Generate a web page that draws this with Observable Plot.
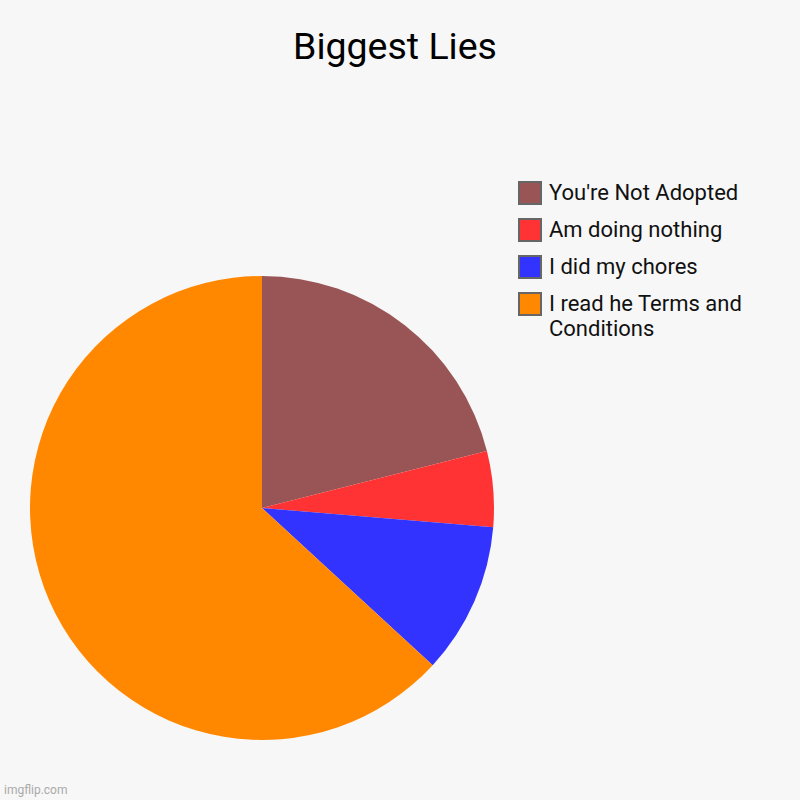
<!DOCTYPE html>
<html>
<head>
<meta charset="utf-8">
<script src="https://cdn.jsdelivr.net/npm/d3@7"></script>
<script src="https://cdn.jsdelivr.net/npm/@observablehq/plot@0.6"></script>
<style>
  html, body { margin: 0; padding: 0; background: #f7f7f7; }
  #wrap { position: relative; width: 800px; height: 800px; background: #f7f7f7; font-family: Roboto, "Noto Sans", sans-serif; overflow: hidden; }
  #title { position: absolute; left: -5px; width: 800px; top: 24px; text-align: center; font-size: 37.5px; color: #000; line-height: 44px; }
  #chart { position: absolute; left: 30px; top: 276px; }
  #legend { position: absolute; left: 518px; top: 181px; }
  .row { display: flex; align-items: flex-start; margin-bottom: 13px; }
  .sw { width: 20px; height: 20px; border: 2px solid #666; box-sizing: content-box; flex: none; }
  .lab { margin-left: 7px; font-size: 22px; line-height: 25px; color: #111; width: 230px; margin-top: -1px; }
  #wm { position: absolute; left: 4px; bottom: 3px; font-size: 12px; color: #aaa; }
</style>
</head>
<body>
<div id="wrap">
  <div id="title">Biggest Lies</div>
  <div id="chart"></div>
  <div id="legend"></div>
  <div id="wm">imgflip.com</div>
</div>
<script>
const labels = ["You're Not Adopted", "Am doing nothing", "I did my chores", "I read he Terms and Conditions"];
const values = [20, 5, 10, 60];
const colors = ["#995555", "#ff3333", "#3333ff", "#ff8800"];

const data = labels.map((label, i) => ({label, value: values[i]}));

const pieGen = d3.pie().value(d => d.value).sort(null);
const arcs = pieGen(data);

const chart = Plot.plot({
  width: 464,
  height: 464,
  margin: 0,
  style: {background: "transparent", overflow: "visible"},
  x: {domain: [-1, 1], axis: null},
  y: {domain: [-1, 1], axis: null},
  color: {domain: labels, range: colors},
  marks: [
    Plot.dot(data, {
      x: () => 0,
      y: () => 0,
      fill: "label",
      render(index, scales, vals, dims) {
        const cx = scales.x(0), cy = scales.y(0);
        const r = scales.x(1) - scales.x(0);
        const arc = d3.arc().innerRadius(0).outerRadius(r);
        const g = d3.create("svg:g").attr("transform", `translate(${cx},${cy})`);
        for (const i of index) {
          g.append("path").attr("d", arc(arcs[i])).attr("fill", vals.fill[i]);
        }
        return g.node();
      }
    })
  ]
});
document.getElementById("chart").appendChild(chart);

const legend = document.getElementById("legend");
const colorScale = chart.scale("color");
labels.forEach(l => {
  const row = document.createElement("div");
  row.className = "row";
  const sw = document.createElement("div");
  sw.className = "sw";
  sw.style.background = colorScale.apply(l);
  const lab = document.createElement("div");
  lab.className = "lab";
  lab.textContent = l;
  row.appendChild(sw);
  row.appendChild(lab);
  legend.appendChild(row);
});
</script>
</body>
</html>
